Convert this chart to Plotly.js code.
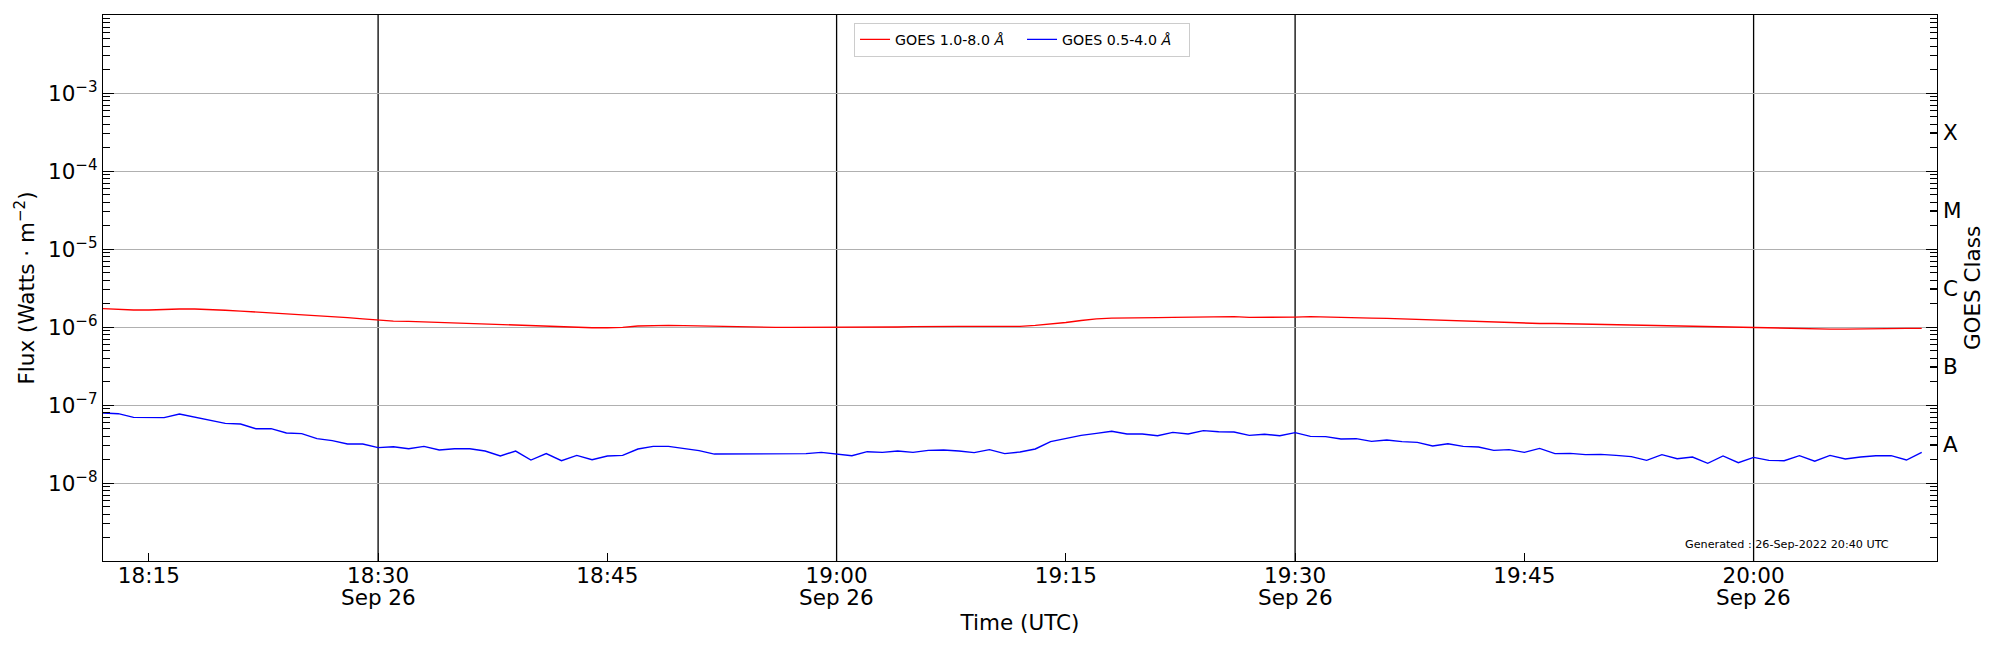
<!DOCTYPE html>
<html>
<head>
<meta charset="utf-8">
<script src="https://cdn.plot.ly/plotly-3.0.1.min.js"></script>
<style>html,body{margin:0;padding:0;background:#fff;}</style>
</head>
<body>
<div id="chart" style="width:2000px;height:650px;"></div>
<script>
// ---- data (GOES XRS, 1-minute cadence, 26 Sep 2022) ----
const START_HOUR = 18;
const START_MINUTE = 12;
const CADENCE_MINUTES = 1;
const DAY = '2022-09-26';

// GOES 1.0-8.0 Å (W m^-2)
const xrsbFlux = [
  1.72e-6,1.67e-6,1.65e-6,1.65e-6,1.68e-6,1.70e-6,1.70e-6,1.68e-6,1.64e-6,1.60e-6,
  1.56e-6,1.51e-6,1.48e-6,1.45e-6,1.41e-6,1.37e-6,1.32e-6,1.27e-6,1.22e-6,1.19e-6,
  1.18e-6,1.16e-6,1.14e-6,1.13e-6,1.11e-6,1.10e-6,1.08e-6,1.06e-6,1.04e-6,1.02e-6,
  1.01e-6,0.99e-6,0.98e-6,0.98e-6,0.99e-6,1.03e-6,1.05e-6,1.05e-6,1.04e-6,1.03e-6,
  1.02e-6,1.00e-6,0.99e-6,0.99e-6,0.99e-6,0.99e-6,0.99e-6,0.98e-6,0.98e-6,0.98e-6,
  0.98e-6,0.99e-6,1.00e-6,1.01e-6,1.02e-6,1.02e-6,1.02e-6,1.02e-6,1.02e-6,1.02e-6,
  1.02e-6,1.05e-6,1.09e-6,1.14e-6,1.21e-6,1.27e-6,1.30e-6,1.30e-6,1.30e-6,1.32e-6,
  1.33e-6,1.34e-6,1.36e-6,1.36e-6,1.36e-6,1.33e-6,1.33e-6,1.33e-6,1.34e-6,1.36e-6,
  1.34e-6,1.33e-6,1.32e-6,1.30e-6,1.29e-6,1.27e-6,1.25e-6,1.24e-6,1.21e-6,1.18e-6,
  1.17e-6,1.15e-6,1.14e-6,1.13e-6,1.11e-6,1.11e-6,1.10e-6,1.09e-6,1.08e-6,1.07e-6,
  1.06e-6,1.05e-6,1.04e-6,1.03e-6,1.02e-6,1.01e-6,1.00e-6,0.99e-6,0.97e-6,0.96e-6,
  0.95e-6,0.95e-6,0.94e-6,0.94e-6,0.94e-6,0.95e-6,0.96e-6,0.96e-6,0.96e-6,0.96e-6
];

// GOES 0.5-4.0 Å (W m^-2)
const xrsaFlux = [
  7.90e-8,7.74e-8,6.95e-8,6.88e-8,6.88e-8,7.66e-8,7.02e-8,6.42e-8,5.82e-8,5.71e-8,
  4.97e-8,4.97e-8,4.38e-8,4.29e-8,3.70e-8,3.49e-8,3.16e-8,3.16e-8,2.84e-8,2.92e-8,
  2.75e-8,2.95e-8,2.65e-8,2.75e-8,2.75e-8,2.57e-8,2.22e-8,2.57e-8,1.97e-8,2.38e-8,
  1.93e-8,2.26e-8,1.99e-8,2.22e-8,2.26e-8,2.73e-8,2.95e-8,2.95e-8,2.75e-8,2.60e-8,
  2.35e-8,2.35e-8,2.38e-8,2.40e-8,2.40e-8,2.38e-8,2.38e-8,2.47e-8,2.35e-8,2.24e-8,
  2.52e-8,2.47e-8,2.57e-8,2.47e-8,2.62e-8,2.65e-8,2.57e-8,2.45e-8,2.68e-8,2.38e-8,
  2.50e-8,2.73e-8,3.39e-8,3.74e-8,4.08e-8,4.33e-8,4.60e-8,4.25e-8,4.25e-8,4.04e-8,
  4.46e-8,4.25e-8,4.69e-8,4.55e-8,4.50e-8,4.08e-8,4.21e-8,4.04e-8,4.42e-8,3.96e-8,
  3.93e-8,3.66e-8,3.70e-8,3.42e-8,3.56e-8,3.39e-8,3.32e-8,2.98e-8,3.19e-8,2.95e-8,
  2.89e-8,2.62e-8,2.68e-8,2.47e-8,2.78e-8,2.38e-8,2.40e-8,2.31e-8,2.33e-8,2.26e-8,
  2.18e-8,1.95e-8,2.31e-8,2.05e-8,2.15e-8,1.79e-8,2.22e-8,1.82e-8,2.13e-8,1.95e-8,
  1.93e-8,2.24e-8,1.90e-8,2.26e-8,2.03e-8,2.15e-8,2.24e-8,2.24e-8,1.97e-8,2.47e-8
];

const seriesNames = ['GOES 1.0-8.0 <i>Å</i>', 'GOES 0.5-4.0 <i>Å</i>'];
const seriesColors = ['red', 'blue'];

const xRange = ['2022-09-26 18:12:00', '2022-09-26 20:12:00'];
const timeTickValues = ['2022-09-26 18:15','2022-09-26 18:30','2022-09-26 18:45','2022-09-26 19:00',
                        '2022-09-26 19:15','2022-09-26 19:30','2022-09-26 19:45','2022-09-26 20:00'];
const timeTickLabels = ['18:15','18:30','18:45','19:00','19:15','19:30','19:45','20:00'];
const dayMarkerTimes = ['2022-09-26 18:30','2022-09-26 19:00','2022-09-26 19:30','2022-09-26 20:00'];
const dayMarkerLabel = 'Sep 26';

const fluxTickValues = [1e-8, 1e-7, 1e-6, 1e-5, 1e-4, 1e-3];
const fluxTickLabels = ['10<sup>−8</sup>','10<sup>−7</sup>','10<sup>−6</sup>','10<sup>−5</sup>','10<sup>−4</sup>','10<sup>−3</sup>'];
const logRange = [-9, -2];

const classLabels = ['A', 'B', 'C', 'M', 'X'];
const classCenters = [Math.pow(10,-7.5), Math.pow(10,-6.5), Math.pow(10,-5.5), Math.pow(10,-4.5), Math.pow(10,-3.5)];

const generatedText = 'Generated : 26-Sep-2022 20:40 UTC';

// ---- build ----
function pad(n){ return (n < 10 ? '0' : '') + n; }
const times = xrsbFlux.map((_, i) => {
  const t = START_HOUR * 60 + START_MINUTE + i * CADENCE_MINUTES;
  return DAY + ' ' + pad(Math.floor(t / 60)) + ':' + pad(t % 60) + ':00';
});

const minorTicks = [];
for (let e = logRange[0]; e < logRange[1]; e++) {
  for (let k = 2; k <= 9; k++) minorTicks.push(k * Math.pow(10, e));
}

const FONT = 'DejaVu Sans, sans-serif';
const BIG = 21.5;

const traces = [
  {x: times, y: xrsbFlux, type: 'scatter', mode: 'lines', name: seriesNames[0],
   line: {color: seriesColors[0], width: 1.4}, xaxis: 'x', yaxis: 'y2'},
  {x: times, y: xrsaFlux, type: 'scatter', mode: 'lines', name: seriesNames[1],
   line: {color: seriesColors[1], width: 1.4}, xaxis: 'x', yaxis: 'y'}
];

const annotations = dayMarkerTimes.map(t => ({
  text: dayMarkerLabel, xref: 'x', yref: 'paper', x: t, y: -0.066,
  xanchor: 'center', yanchor: 'middle', showarrow: false,
  font: {family: FONT, size: BIG, color: '#000'}
}));
annotations.push({
  text: generatedText, xref: 'paper', yref: 'paper', x: 0.9749, y: 0.0306,
  xanchor: 'right', yanchor: 'middle', showarrow: false,
  font: {family: FONT, size: 11.2, color: '#000'}
});

const layout = {
  width: 2000, height: 650,
  margin: {l: 103, r: 63, t: 15, b: 89, pad: 0},
  paper_bgcolor: '#fff', plot_bgcolor: '#fff',
  font: {family: FONT, size: BIG, color: '#000'},
  showlegend: true,
  legend: {
    orientation: 'h', x: 0.4095, xanchor: 'left', y: 0.986, yanchor: 'top',
    bgcolor: '#fff', bordercolor: '#cccccc', borderwidth: 1,
    font: {family: FONT, size: 14.2, color: '#000'},
    itemwidth: 30, entrywidth: 122, traceorder: 'normal'
  },
  xaxis: {
    type: 'date', range: xRange,
    tickmode: 'array', tickvals: timeTickValues, ticktext: timeTickLabels,
    ticks: 'inside', ticklen: 8, tickwidth: 1, tickcolor: '#000',
    ticklabelstandoff: -5,
    showline: true, linecolor: '#000', linewidth: 1.2, mirror: true,
    showgrid: false, zeroline: false,
    tickfont: {family: FONT, size: BIG, color: '#000'},
    title: {text: 'Time (UTC)', font: {family: FONT, size: BIG, color: '#000'}, standoff: 28}
  },
  yaxis: {
    type: 'log', range: logRange,
    tickmode: 'array', tickvals: fluxTickValues, ticktext: fluxTickLabels,
    ticks: 'inside', ticklen: 11, tickwidth: 1, tickcolor: '#000',
    minor: {tickmode: 'array', tickvals: minorTicks, ticks: 'inside', ticklen: 7, tickwidth: 1, tickcolor: '#000', showgrid: false},
    showline: true, linecolor: '#000', linewidth: 1.2, mirror: 'ticks',
    showgrid: true, gridcolor: '#b0b0b0', gridwidth: 1, zeroline: false,
    tickfont: {family: FONT, size: BIG, color: '#000'},
    title: {text: 'Flux (Watts · m<sup>−2</sup>)', font: {family: FONT, size: BIG, color: '#000'}, standoff: 7}
  },
  yaxis2: {
    type: 'log', range: logRange, overlaying: 'y', side: 'right', anchor: 'x',
    tickmode: 'array', tickvals: classCenters, ticktext: classLabels,
    ticks: 'inside', ticklen: 7, tickwidth: 1, tickcolor: '#000',
    ticklabelstandoff: 5,
    showline: false, showgrid: false, zeroline: false,
    tickfont: {family: FONT, size: BIG, color: '#000'},
    title: {text: 'GOES Class', font: {family: FONT, size: BIG, color: '#000'}, standoff: 4}
  },
  shapes: dayMarkerTimes.map(t => ({
    type: 'line', xref: 'x', yref: 'paper', x0: t, x1: t, y0: 0, y1: 1,
    line: {color: '#000', width: 1.3}, layer: 'below'
  })),
  annotations: annotations
};

Plotly.newPlot('chart', traces, layout, {displayModeBar: false, staticPlot: true});
</script>
</body>
</html>
